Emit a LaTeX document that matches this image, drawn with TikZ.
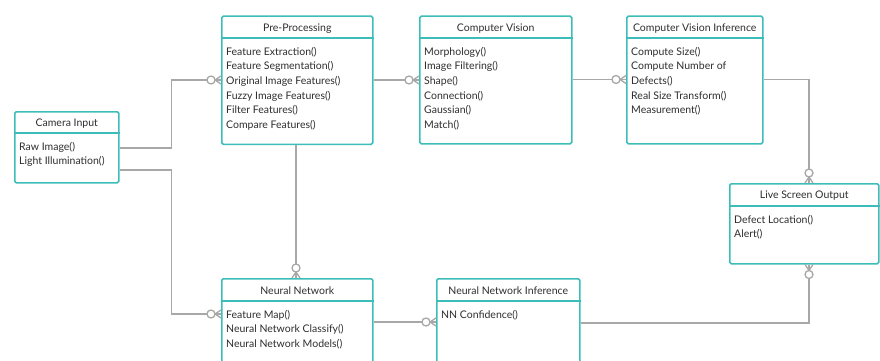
\documentclass[tikz,border=0pt]{standalone}
\usepackage{fontspec}
\setmainfont{Lato}
\usetikzlibrary{calc}
\definecolor{teal1}{HTML}{3DBDBA}
\definecolor{conngray}{HTML}{A8A8A8}
\definecolor{txt}{HTML}{2E2E2E}
\tikzset{
  box/.style={draw=teal1, line width=1.5pt, rounded corners=1.5pt, fill=white, inner sep=0pt, anchor=north west},
  divline/.style={draw=teal1, line width=1.3pt},
  head/.style={font=\fontsize{10.5pt}{12pt}\selectfont, text=txt, inner sep=0pt},
  items/.style={font=\fontsize{10.5pt}{14.6pt}\selectfont, text=txt, inner sep=0pt, align=left, anchor=north west},
  conn/.style={draw=conngray, line width=1.3pt},
}
\newcommand\zeromany[2]{%
  \begin{scope}[shift={#1}, rotate=#2]
    \draw[conn, fill=white] (-10pt,0pt) circle (4pt);
    \draw[conn] (-6pt,0pt) -- (0pt,4pt) (-6pt,0pt) -- (0pt,-4pt);
  \end{scope}}
\begin{document}
\begin{tikzpicture}[x=1pt, y=-1pt]
\useasboundingbox (0,0) rectangle (880,361);
\clip (0,0) rectangle (880,361);
% boxes
\node[box, minimum width=104pt, minimum height=71pt] (cam) at (14,111) {};
\node[box, minimum width=151pt, minimum height=128pt] (pp) at (221,15.5) {};
\node[box, minimum width=152pt, minimum height=127.5pt] (cv) at (419,15.5) {};
\node[box, minimum width=136pt, minimum height=127.5pt] (cvi) at (626,15.5) {};
\node[box, minimum width=149pt, minimum height=80pt] (lso) at (729,183) {};
\node[box, minimum width=151pt, minimum height=120pt] (nn) at (221,278) {};
\node[box, minimum width=143pt, minimum height=120pt] (nni) at (436,278) {};
% dividers
\foreach \b/\d in {cam/22, pp/22.5, cv/22.5, cvi/22.5, lso/23, nn/23, nni/23}{
  \draw[divline] ([yshift=-\d pt]\b.north west) -- ([yshift=-\d pt]\b.north east);
}
% headers
\node[head] (camh) at ([yshift=-12.5pt]cam.north) {Camera Input};
\node[head] (pph) at ([yshift=-13pt]pp.north) {Pre-Processing};
\node[head] (cvh) at ([yshift=-13pt]cv.north) {Computer Vision};
\node[head] (cvih) at ([yshift=-13pt]cvi.north) {Computer Vision Inference};
\node[head] (lsoh) at ([yshift=-13pt]lso.north) {Live Screen Output};
\node[head] (nnh) at ([yshift=-13pt]nn.north) {Neural Network};
\node[head] (nnih) at ([yshift=-13pt]nni.north) {Neural Network Inference};
% items
\node[items] (cami) at ([xshift=5pt, yshift=-31pt]cam.north west) {Raw Image()\\Light Illumination()};
\node[items] (ppi) at ([xshift=5pt, yshift=-31.5pt]pp.north west) {Feature Extraction()\\Feature Segmentation()\\Original Image Features()\\Fuzzy Image Features()\\Filter Features()\\Compare Features()};
\node[items] (cvi2) at ([xshift=5pt, yshift=-31.5pt]cv.north west) {Morphology()\\Image Filtering()\\Shape()\\Connection()\\Gaussian()\\Match()};
\node[items] (cvii) at ([xshift=5pt, yshift=-31.5pt]cvi.north west) {Compute Size()\\Compute Number of\\Defects()\\Real Size Transform()\\Measurement()};
\node[items] (lsoi) at ([xshift=5pt, yshift=-32pt]lso.north west) {Defect Location()\\Alert()};
\node[items] (nni1) at ([xshift=5pt, yshift=-32pt]nn.north west) {Feature Map()\\Neural Network Classify()\\Neural Network Models()};
\node[items] (nnii) at ([xshift=5pt, yshift=-32pt]nni.north west) {NN Confidence()};
% connectors
\coordinate (e1) at ([yshift=-64.5pt]pp.north west);
\draw[conn] ([yshift=-37pt]cam.north east) -- ++(52,0) |- (e1);
\zeromany{(e1)}{0}
\coordinate (e2) at ([yshift=-36pt]nn.north west);
\draw[conn] ([yshift=-59pt]cam.north east) -- ++(52,0) |- (e2);
\zeromany{(e2)}{0}
\coordinate (e3) at ([yshift=-64.5pt]cv.north west);
\draw[conn] ([yshift=-64.5pt]pp.north east) -- (e3);
\zeromany{(e3)}{0}
\coordinate (e4) at ([yshift=-64pt]cvi.north west);
\draw[conn] ([yshift=-64pt]cv.north east) -- (e4);
\zeromany{(e4)}{0}
\coordinate (e5) at ([xshift=80pt]lso.north west);
\draw[conn] ([yshift=-64pt]cvi.north east) -| (e5);
\zeromany{(e5)}{-90}
\coordinate (e6) at ([xshift=75pt]nn.north west);
\draw[conn] ([xshift=75pt]pp.south west) -- (e6);
\zeromany{(e6)}{-90}
\coordinate (e7) at ([yshift=-44pt]nni.north west);
\draw[conn] ([yshift=-44pt]nn.north east) -- (e7);
\zeromany{(e7)}{0}
\coordinate (e8) at ([xshift=80pt]lso.south west);
\draw[conn] ([yshift=-45pt]nni.north east) -| (e8);
\zeromany{(e8)}{90}
\end{tikzpicture}
\end{document}
